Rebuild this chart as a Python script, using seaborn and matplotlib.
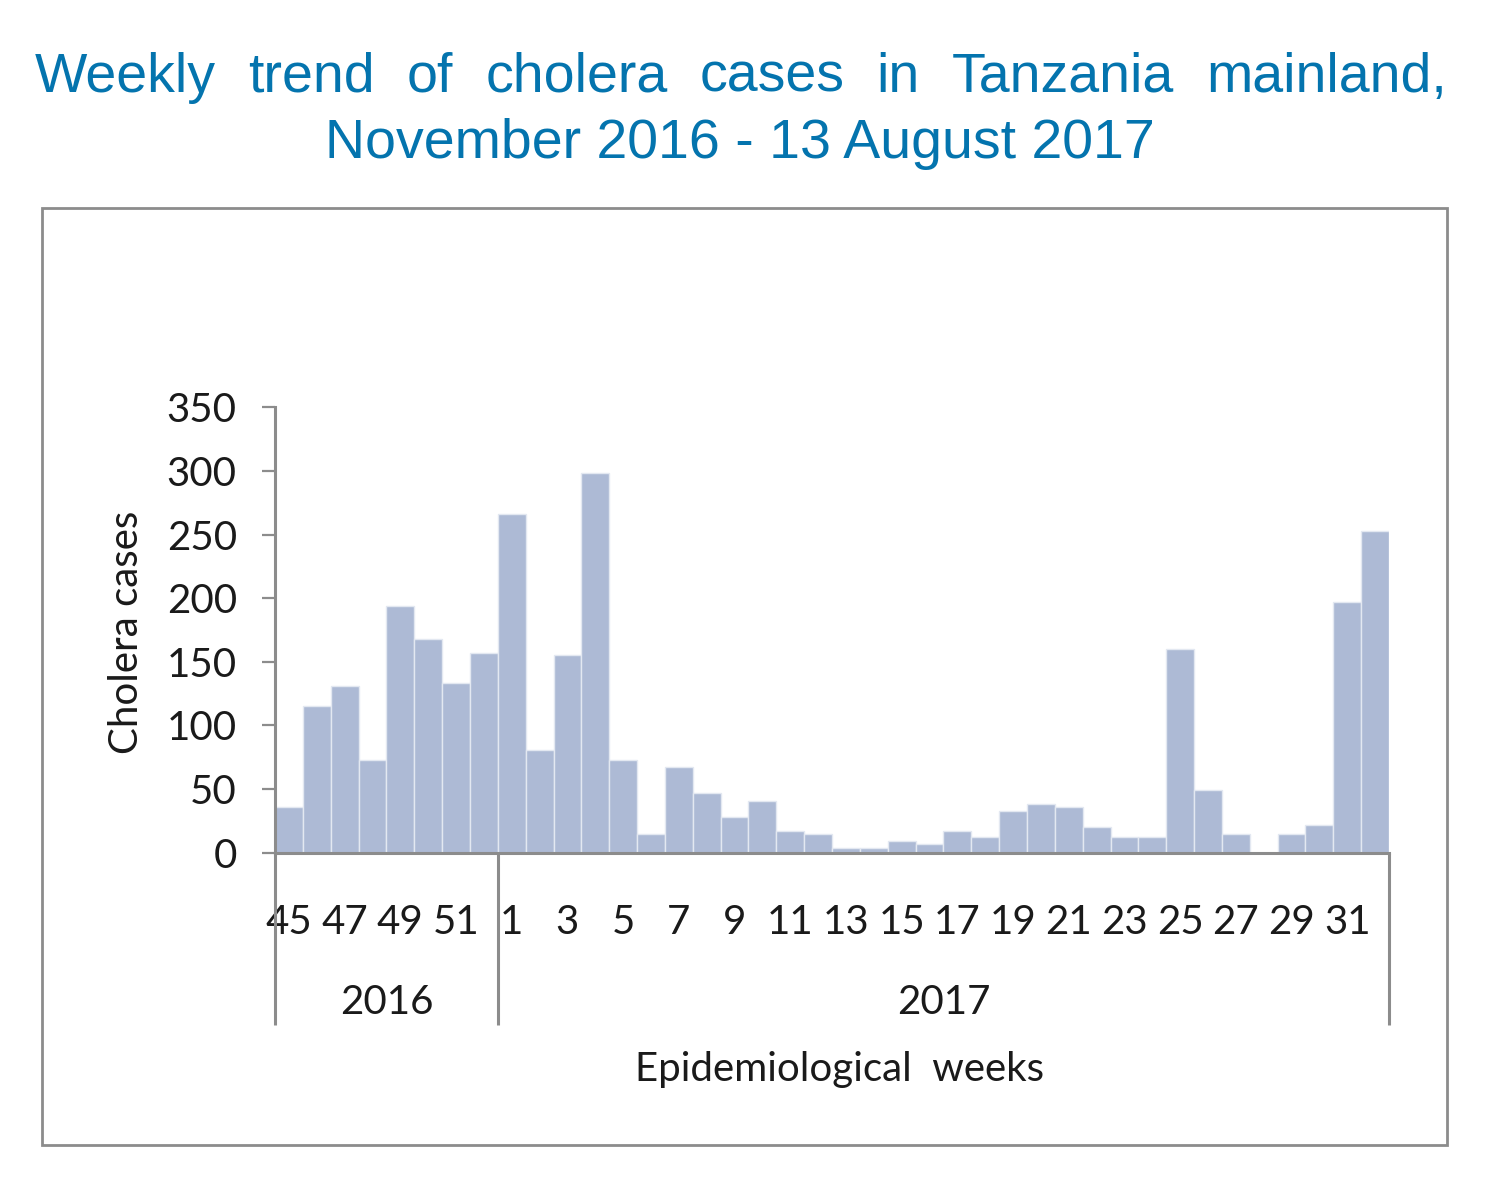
import matplotlib
matplotlib.use("Agg")
import matplotlib.pyplot as plt
import matplotlib.transforms as mtransforms
from matplotlib.patches import Rectangle
import seaborn as sns

# --- Data ---
weeks_2016 = [45, 46, 47, 48, 49, 50, 51, 52]
weeks_2017 = list(range(1, 33))
cases_2016 = [36, 115, 131, 73, 194, 168, 133, 157]
cases_2017 = [266, 81, 155, 298, 73, 15, 67, 47, 28, 41,
              17, 15, 4, 4, 9, 7, 17, 12, 33, 38,
              36, 20, 12, 12, 160, 49, 15, 0, 15, 22,
              197, 253]
years = ["2016", "2017"]

TITLE_LINE1 = "Weekly trend of cholera cases in Tanzania mainland,"
TITLE_LINE2 = "November 2016 - 13 August 2017"

# --- Styling ---
W_PX, H_PX = 1496, 1178
BAR_COLOR = "#adbad5"
AXIS_GRAY = "#8c8c8c"
TITLE_BLUE = "#0474ae"
TEXT_COLOR = "#1a1a1a"
TICK_FONT = ["Lato", "DejaVu Sans"]
TITLE_FONT = ["Liberation Sans", "DejaVu Sans"]
FS = 29

sns.set_style("white")
plt.rcParams["font.family"] = TICK_FONT

labels = [str(w) for w in weeks_2016] + [str(w) for w in weeks_2017]
cases = cases_2016 + cases_2017

fig = plt.figure(figsize=(W_PX / 100, H_PX / 100), dpi=100)

# axes placement in pixels
ax_left, ax_right, ax_bottom, ax_top = 275, 1389, 852.7, 407.3
ax = fig.add_axes([ax_left / W_PX, 1 - ax_bottom / H_PX,
                   (ax_right - ax_left) / W_PX, (ax_bottom - ax_top) / H_PX])

sns.barplot(x=labels, y=cases, order=labels, color=BAR_COLOR, saturation=1,
            width=1.0, edgecolor="#e3e8f1", linewidth=1.0, ax=ax)

ax.set_xlim(-0.5, len(labels) - 0.5)
ax.set_ylim(0, 350)
ax.set_yticks(range(0, 351, 50))
ax.set_xlabel("")
ax.set_ylabel("")

for side in ["top", "right"]:
    ax.spines[side].set_visible(False)
for side in ["left", "bottom"]:
    ax.spines[side].set_color(AXIS_GRAY)
    ax.spines[side].set_linewidth(2.2)

ax.tick_params(axis="y", direction="out", length=9.5, width=1.6, color=AXIS_GRAY,
               pad=18, labelsize=FS, labelcolor=TEXT_COLOR, left=True)
ax.set_xticks(range(0, len(labels), 2))
ax.set_xticklabels(labels[::2])
ax.tick_params(axis="x", length=0, pad=37, labelsize=FS, labelcolor=TEXT_COLOR)

# multi-level category axis: separators and year labels
trans = mtransforms.blended_transform_factory(ax.transData, ax.transAxes)
sep_depth = -(1025 - ax_bottom) / (ax_bottom - ax_top)
n16 = len(weeks_2016)
for xs in [-0.5, n16 - 0.5, len(labels) - 0.5]:
    ax.plot([xs, xs], [0, sep_depth], transform=trans, color=AXIS_GRAY,
            lw=2.2, clip_on=False, solid_capstyle="butt")

year_y = -(1002 - ax_bottom) / (ax_bottom - ax_top)
ax.text((n16 - 1) / 2, year_y, years[0], transform=trans, ha="center",
        va="center", fontsize=FS, color=TEXT_COLOR)
ax.text(n16 + (len(weeks_2017) - 1) / 2, year_y, years[1], transform=trans,
        ha="center", va="center", fontsize=FS, color=TEXT_COLOR)

fig.text(840 / W_PX, 1 - 1070 / H_PX, "Epidemiological  weeks", ha="center",
         va="center", fontsize=FS, color=TEXT_COLOR)
fig.text(127 / W_PX, 1 - 632 / H_PX, "Cholera cases", ha="center", va="center",
         rotation=90, fontsize=FS, color=TEXT_COLOR)

# outer frame
fig.patches.append(Rectangle((42 / W_PX, 1 - 1145 / H_PX),
                             (1447 - 42) / W_PX, (1145 - 208) / H_PX,
                             transform=fig.transFigure, fill=False,
                             edgecolor=AXIS_GRAY, lw=2.0))

# title: first line justified, second centered
words = TITLE_LINE1.split()
y1 = 1 - 91.7 / H_PX
word_texts = [fig.text(0, y1, w, ha="left", va="baseline", fontsize=40,
                       family=TITLE_FONT, color=TITLE_BLUE) for w in words]
fig.canvas.draw()
renderer = fig.canvas.get_renderer()
widths = [t.get_window_extent(renderer).width for t in word_texts]
x_start, x_end = 35, 1447
gap = (x_end - x_start - sum(widths)) / (len(words) - 1)
x = x_start
for t, w in zip(word_texts, widths):
    t.set_x(x / W_PX)
    x += w + gap

fig.text(740 / W_PX, 1 - 157.7 / H_PX, TITLE_LINE2, ha="center", va="baseline",
         fontsize=40, family=TITLE_FONT, color=TITLE_BLUE)

fig.savefig("out.png", dpi=100)
